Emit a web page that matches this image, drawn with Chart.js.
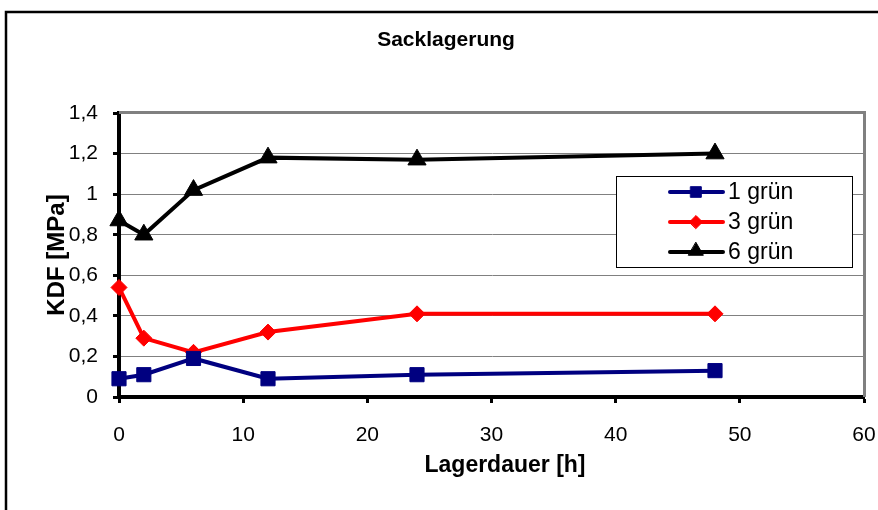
<!DOCTYPE html>
<html>
<head>
<meta charset="utf-8">
<script src="https://cdn.jsdelivr.net/npm/chart.js@4"></script>
<style>
  html, body { margin: 0; padding: 0; background: #fff; }
  #wrap { width: 878px; height: 510px; }
</style>
</head>
<body>
<div id="wrap"><canvas id="chart" width="878" height="510"></canvas></div>
<script>
const hours = [0, 2, 6, 12, 24, 48];
const gruen1 = [0.09, 0.11, 0.19, 0.09, 0.11, 0.13];
const gruen3 = [0.54, 0.29, 0.22, 0.32, 0.41, 0.41];
const gruen6 = [0.87, 0.80, 1.02, 1.18, 1.17, 1.20];
const seriesNames = ["1 grün", "3 grün", "6 grün"];

const FONT = "'Liberation Sans', Arial, sans-serif";

const toPoints = (ys) => hours.map((h, i) => ({ x: h, y: ys[i] }));

// frame, plot border, titles and legend in Excel style
const excelDecor = {
  id: "excelDecor",
  beforeDraw(chart) {
    const ctx = chart.ctx;
    ctx.save();
    ctx.fillStyle = "#fff";
    ctx.fillRect(0, 0, chart.width, chart.height);
    ctx.restore();
  },
  afterDraw(chart) {
    const ctx = chart.ctx;
    const { left, top, right, bottom } = chart.chartArea;
    ctx.save();

    // outer frame
    ctx.strokeStyle = "#000";
    ctx.lineWidth = 2.5;
    ctx.strokeRect(6, 12, chart.width + 10, chart.height + 10);

    // gray top/right plot border
    ctx.strokeStyle = "#808080";
    ctx.lineWidth = 3;
    ctx.beginPath();
    ctx.moveTo(left, top - 0.5);
    ctx.lineTo(right + 0.5, top - 0.5);
    ctx.lineTo(right + 0.5, bottom);
    ctx.stroke();

    // titles
    ctx.fillStyle = "#000";
    ctx.textAlign = "center";
    ctx.textBaseline = "middle";
    ctx.font = "bold 21px " + FONT;
    ctx.fillText("Sacklagerung", 446, 40);
    ctx.font = "bold 23px " + FONT;
    ctx.fillText("Lagerdauer [h]", 505, 466);

    // legend
    const lx = 616, ly = 176, lw = 236, lh = 91;
    ctx.fillStyle = "#fff";
    ctx.fillRect(lx, ly, lw, lh);
    ctx.strokeStyle = "#000";
    ctx.lineWidth = 1;
    ctx.strokeRect(lx + 0.5, ly + 0.5, lw, lh);

    chart.data.datasets.forEach((ds, i) => {
      const y = 192 + i * 30;
      ctx.strokeStyle = ds.borderColor;
      ctx.fillStyle = ds.borderColor;
      ctx.lineWidth = 4;
      ctx.lineCap = "round";
      ctx.beginPath();
      ctx.moveTo(670, y);
      ctx.lineTo(723, y);
      ctx.stroke();
      ctx.lineWidth = 1;
      Chart.helpers.drawPoint(ctx, {
        pointStyle: ds.pointStyle,
        radius: ds.legendRadius,
        borderWidth: 1,
      }, 696, ds.pointStyle === "triangle" ? y - 1 : y);
      ctx.fillStyle = "#000";
      ctx.font = "23px " + FONT;
      ctx.textAlign = "left";
      ctx.textBaseline = "middle";
      ctx.fillText(ds.label, 728, y + 1);
    });

    ctx.restore();
  },
};

const makeSet = (label, ys, color, style, radius, legendRadius) => ({
  label,
  data: toPoints(ys),
  borderColor: color,
  backgroundColor: color,
  pointBackgroundColor: color,
  pointBorderColor: color,
  borderWidth: 4,
  pointStyle: style,
  pointRadius: radius,
  pointHoverRadius: radius,
  pointBorderWidth: 1,
  legendRadius,
  tension: 0,
  clip: false,
});

new Chart(document.getElementById("chart"), {
  type: "line",
  data: {
    datasets: [
      makeSet(seriesNames[0], gruen1, "#000080", "rect", 10, 7.5),
      makeSet(seriesNames[1], gruen3, "#ff0000", "rectRot", 8, 6.5),
      makeSet(seriesNames[2], gruen6, "#000000", "triangle", 10.5, 8.5),
    ],
  },
  options: {
    responsive: false,
    animation: false,
    layout: { padding: { left: 0, top: 113, right: 14, bottom: 0 } },
    plugins: {
      legend: { display: false },
      tooltip: { enabled: false },
    },
    scales: {
      x: {
        type: "linear",
        min: 0,
        max: 60,
        afterFit: (scale) => {
          scale.height = 113;
          scale.paddingLeft = 0;
          scale.paddingRight = 0;
        },
        border: { color: "#000", width: 4 },
        grid: {
          color: "transparent",
          tickColor: "#000",
          tickLength: 6,
          tickWidth: 3,
        },
        ticks: {
          stepSize: 10,
          color: "#000",
          padding: 20,
          font: { family: FONT, size: 21 },
        },
      },
      y: {
        min: 0,
        max: 1.4,
        afterFit: (scale) => { scale.width = 119; },
        border: { color: "#000", width: 4 },
        grid: {
          color: "#808080",
          lineWidth: 1,
          tickColor: "#000",
          tickLength: 6,
          tickWidth: 3,
        },
        ticks: {
          stepSize: 0.2,
          color: "#000",
          padding: 15,
          font: { family: FONT, size: 21 },
          callback: (v) => String(Number(v.toFixed(1))).replace(".", ","),
        },
        title: {
          display: true,
          text: "KDF [MPa]",
          color: "#000",
          padding: { top: 43, bottom: 0 },
          font: { family: FONT, size: 24, weight: "bold" },
        },
      },
    },
  },
  plugins: [excelDecor],
});
</script>
</body>
</html>
